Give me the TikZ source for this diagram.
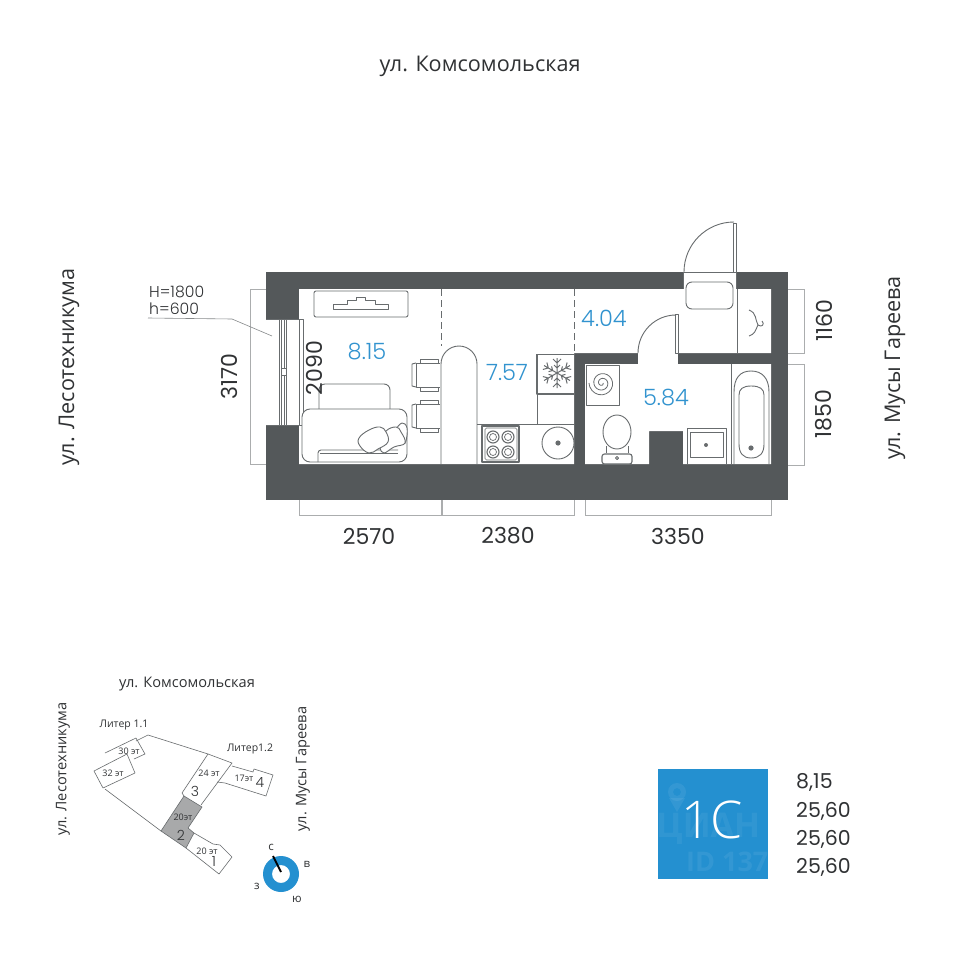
\documentclass[tikz,border=0pt]{standalone}
\usepackage{fontspec}
\setmainfont{Open Sans}
\newfontfamily\numf{Poppins}
\newfontfamily\numl{Poppins Light}
\newfontfamily\cyl{Open Sans Light}
\definecolor{wallc}{HTML}{54585A}
\definecolor{linec}{HTML}{686C6E}
\definecolor{dimc}{HTML}{ABADAE}
\definecolor{areac}{HTML}{3193CF}
\definecolor{cardc}{HTML}{2490D0}
\definecolor{txtc}{HTML}{303234}
\tikzset{
  fx/.style={line width=0.9pt,draw=linec,line join=round},
  dimline/.style={line width=0.8pt,draw=dimc},
  maplin/.style={line width=0.6pt,draw=linec,line join=round},
  street/.style={inner sep=0,text=txtc,font=\fontsize{21.6}{22}\selectfont},
  mstreet/.style={inner sep=0,text=txtc,font=\fontsize{14.6}{15}\selectfont},
  dimtxt/.style={inner sep=0,text=txtc,font=\numf\fontsize{22}{22}\selectfont},
  area/.style={inner sep=0,text=areac,font=\numl\fontsize{22.5}{23}\selectfont},
  val/.style={inner sep=0,anchor=west,text=txtc,font=\numf\fontsize{20.5}{22}\selectfont},
  tiny/.style={inner sep=0,text=txtc,font=\fontsize{9}{10}\selectfont},
  lbl/.style={inner sep=0,text=txtc,font=\fontsize{10.5}{11}\selectfont},
  num/.style={inner sep=0,text=txtc,font=\numl\fontsize{14}{14}\selectfont},
  comp/.style={inner sep=0,text=txtc,font=\fontsize{11.5}{12}\selectfont},
  hnote/.style={inner sep=0,anchor=west,text=txtc,font=\numl\fontsize{15.7}{16}\selectfont},
}
\begin{document}
\begin{tikzpicture}[x=1pt,y=-1pt]
\useasboundingbox (0,0) rectangle (960,960);
\fill[white] (0,0) rectangle (960,960);
% dimension brackets
\draw[dimline] (266,289) -- (250,289) -- (250,464) -- (266,464);
\draw[dimline] (788,289) -- (804,289) -- (804,353) -- (788,353);
\draw[dimline] (788,364) -- (804,364) -- (804,465) -- (788,465);
\draw[dimline] (299,500) -- (299,515) -- (441,515) -- (441,500);
\draw[dimline] (442,500) -- (442,515) -- (574,515) -- (574,500);
\draw[dimline] (585,500) -- (585,515) -- (771,515) -- (771,500);
% walls
\fill[wallc] (266,272) rectangle (788,500);
\fill[white] (299,289) -- (771,289) -- (771,353) -- (574,353) -- (574,464) -- (299,464) -- cycle;
\fill[white] (585,364) -- (771,364) -- (771,464) -- (683,464) -- (683,431) -- (649,431) -- (649,464) -- (585,464) -- cycle;
\fill[white] (638,352) rectangle (678,365);
\fill[white] (683,271) rectangle (736,290);
\fill[white] (266,319) rectangle (299,425);
% window
\draw[fx] (266,319) -- (299,319) (266,425) -- (299,425);
\draw[fx] (279,319) -- (279,425) (281,319) -- (281,425) (284,319) -- (284,425);
\draw[fx,line width=0.5pt] (286,319) -- (286,425);
\draw[fx,fill=white] (281,368) rectangle (286,375);
\draw[fx] (299,319) rectangle (303,425);
\draw[dimline,draw=linec!80,line width=0.6pt] (148,318) -- (232,319) -- (272,336);
% doors
\draw[fx] (684,272) arc[start angle=180,end angle=270,radius=50];
\draw[fx,line width=0.8pt] (683,272) -- (736,272) (733,223) -- (736,223) -- (736,272) -- (733,272) -- cycle;
\draw[fx] (683,272) -- (683,289) (736,272) -- (736,289);
\draw[fx] (638,353) arc[start angle=180,end angle=270,radius=38];
\draw[fx] (675,314) -- (678,314) -- (678,353) -- (675,353) -- cycle;
% built-in lines
\draw[fx,dash pattern=on 7pt off 4pt,line width=0.8pt] (441,289) -- (441,346);
\draw[fx,dash pattern=on 7pt off 4pt,line width=0.8pt] (574,289) -- (574,353);
\draw[fx] (737,289) -- (737,353);
\draw[fx] (731,364) -- (731,464);
% hanger + hall bench
\draw[fx,rounded corners=6pt] (686,282) rectangle (733,309);
\draw[fx] (749,310) .. controls (757,313) and (755,320) .. (758,325) .. controls (755,331) and (755,334) .. (749,336);
\draw[fx] (758,325) .. controls (762,328) and (765,324) .. (762,321);
% TV
\draw[fx,rounded corners=2pt] (314,291) rectangle (408,317);
\draw[fx] (333,309) -- (333,304) -- (347,304) -- (347,300) -- (356,300) -- (356,297) -- (365,297) -- (365,300) -- (375,300) -- (375,304) -- (388,304) -- (388,309) -- cycle;
% chairs
\foreach \yy in {359,400}{
  \draw[fx] (440,\yy+4) -- (416,\yy+4) -- (416,\yy+28) -- (440,\yy+28);
  \draw[fx] (416,\yy+4) -- (412,\yy+5) -- (412,\yy+27) -- (416,\yy+28);
  \draw[fx] (420,\yy+4) -- (420,\yy) -- (438,\yy) -- (438,\yy+4);
  \draw[fx] (420,\yy+28) -- (420,\yy+32) -- (438,\yy+32) -- (438,\yy+28);
}
% counter
\draw[fx] (441,464) -- (441,364) arc[start angle=180,end angle=360,radius=18] -- (477,464);
\draw[fx] (477,424) -- (574,424);
\draw[fx] (537,394) -- (537,424);
% sofa
\draw[fx,rounded corners=6pt] (319,409) -- (319,384) -- (390,384) -- (390,409);
\draw[fx,rounded corners=8pt,fill=white] (302,409) rectangle (407,462);
\draw[fx,rounded corners=3pt] (318,462) -- (318,450) -- (398,450);
\draw[fx] (320,453) -- (398,453);
\draw[fx,fill=white] plot[smooth cycle,tension=0.7] coordinates {(402,423) (407,428) (406,441) (403,443) (398,436) (396,430)};
\draw[fx,fill=white] plot[smooth cycle,tension=0.7] coordinates {(386,431) (396,427) (401,432) (405,443) (394,447) (384,453) (380,448) (380,442)};
\draw[fx,fill=white] plot[smooth cycle,tension=0.7] coordinates {(369,430) (380,427) (386,432) (388,442) (378,449) (369,453) (360,446) (359,438)};
% stove
\draw[fx,line width=1.1pt] (482,426) rectangle (519,462);
\draw[fx,line width=0.6pt,rounded corners=1.5pt] (485,428) rectangle (517,460);
\foreach \cx/\cy in {493/437,508/437,493/452,508/452}{
  \draw[fx,line width=1.1pt] (\cx,\cy) circle[radius=6];
  \draw[fx,line width=0.7pt] (\cx,\cy) circle[radius=3.5];
}
% sink
\draw[fx] (558,443) circle[radius=16];
\fill[linec] (558,443) circle[radius=2.6];
% fridge
\draw[fx,line width=1.1pt] (537,354) -- (537,394) -- (574,394);
\draw[fx] (537,354) -- (574,354);
\foreach \a in {30,90,150,210,270,330}{
  \begin{scope}[shift={(557,373)},rotate=\a]
    \draw[fx,line width=1pt] (0,0) -- (15,0) (10,0) -- (14,-4) (10,0) -- (14,4) (5,0) -- (8,-3) (5,0) -- (8,3);
  \end{scope}
}
% washer
\draw[fx] (586,365) rectangle (619,405);
\draw[fx,line width=0.8pt] plot[smooth,samples=50,domain=0:900] ({602+(1+\x/75)*cos(\x)},{383+(1+\x/75)*sin(\x)});
% toilet
\draw[fx] (606,446) -- (606,453) (628,446) -- (628,453);
\draw[fx,fill=white] (617,432) ellipse[x radius=14,y radius=17];
\draw[fx,line width=1.1pt,rounded corners=2.5pt,fill=white] (602,454) rectangle (632,464);
\draw[fx] (617,458) circle[radius=1.6];
% wash basin
\draw[fx] (687,464) -- (687,428) -- (726,428) -- (726,464);
\draw[fx] (690,432) rectangle (723,457);
\fill[linec] (706,445) circle[radius=2];
% bath
\draw[fx] (734,464) -- (734,392) .. controls (734,378) and (740,371) .. (751,371) .. controls (762,371) and (769,378) .. (769,392) -- (769,464);
\draw[fx] (739,395) .. controls (739,389) and (743,386) .. (751,386) .. controls (760,386) and (764,389) .. (764,395) -- (764,444) .. controls (764,453) and (760,458) .. (751,458) .. controls (743,458) and (739,453) .. (739,444) -- cycle;
\fill[linec] (751,448) circle[radius=2.6];
% labels
\node[street] (comsomol) at (480,66) {ул. Комсомольская};
\node[street,rotate=90] (lesotech) at (69,367) {ул. Лесотехникума};
\node[street,rotate=90] (garey) at (895,368) {ул. Мусы Гареева};
\node[hnote] (hh) at (149,292) {H=1800};
\node[hnote] (hl) at (149,309) {h=600};
\node[dimtxt,rotate=90] (d2090) at (314,368) {2090};
\node[dimtxt,rotate=90] (d3170) at (229,377) {3170};
\node[dimtxt,rotate=90] (d1160) at (824,321) {1160};
\node[dimtxt,rotate=90] (d1850) at (824,414) {1850};
\node[dimtxt] (d2570) at (369,536) {2570};
\node[dimtxt] (d2380) at (508,536) {2380};
\node[dimtxt] (d3350) at (678,536) {3350};
\node[area] (a1) at (367,352) {8.15};
\node[area] (a2) at (507,372) {7.57};
\node[area] (a3) at (604,318) {4.04};
\node[area] (a4) at (666,398) {5.84};
% site plan
\fill[gray!60!wallc!60] (184,796) -- (202,807) -- (188,828) -- (194,833) -- (186,848) -- (161,831) -- cycle;
\draw[maplin] (184,796) -- (202,807) -- (188,828) -- (194,833) -- (186,848) -- (161,831) -- cycle;
\draw[maplin] (136,741) -- (148,735) -- (208,754);
\draw[maplin] (105,753) -- (136,738) -- (145,754) -- (134,759);
\draw[maplin] (94,771) -- (127,754) -- (135,773) -- (103,788) -- cycle;
\draw[maplin] (105,789) -- (161,831);
\draw[maplin] (208,754) -- (232,763) -- (201,805);
\draw[maplin] (208,754) -- (182,793) -- (184,796);
\draw[maplin] (232,766) -- (253,772) -- (254,769) -- (273,775) -- (266,796) -- (225,783) -- (217,782);
\draw[maplin] (194,833) -- (213,844) -- (220,845) -- (232,857) -- (219,874) -- (186,848);
\node[mstreet] (mk) at (187,684) {ул. Комсомольская};
\node[mstreet,rotate=90] (ml) at (63,769) {ул. Лесотехникума};
\node[mstreet,rotate=90] (mg) at (303,769) {ул. Мусы Гареева};
\node[lbl] (lit1) at (124,725) {Литер 1.1};
\node[lbl] (lit2) at (250,749) {Литер1.2};
\node[tiny] (f30) at (129,751) {30 эт};
\node[tiny] (f32) at (113,773) {32 эт};
\node[tiny] (f24) at (209,773) {24 эт};
\node[tiny] (f17) at (244,778) {17эт};
\node[tiny] (f20a) at (183,817) {20эт};
\node[tiny] (f20b) at (207,851) {20 эт};
\node[num] (n4) at (260,782) {4};
\node[num] (n3) at (195,791) {3};
\node[num] (n2) at (181,835) {2};
\node[num] (n1) at (214,861) {1};
% compass
\fill[cardc,even odd rule] (281,874) circle[radius=18] (281,874) circle[radius=9];
\coordinate (needleA) at (273,856);
\coordinate (needleB) at (281,872);
\draw[black,line width=2pt] (needleA) -- (needleB);
\node[comp] (cn) at (271,847) {с};
\node[comp] (ce) at (307,864) {в};
\node[comp] (cw) at (257,886) {з};
\node[comp] (cs) at (297,899) {ю};
% card
\fill[cardc] (658,769) rectangle (768,879);
\begin{scope}
\clip (658,769) rectangle (768,879);
\fill[white,opacity=0.07,even odd rule] (677,792) circle[radius=9] (677,792) circle[radius=4];
\fill[white,opacity=0.07] (669,798) -- (677,812) -- (685,798) -- cycle;
\node[inner sep=0,anchor=west,text=white,text opacity=0.06,font=\bfseries\fontsize{34}{34}\selectfont] (wm) at (656,829) {ЦИАН};
\node[inner sep=0,anchor=west,text=white,text opacity=0.07,font=\bfseries\fontsize{27}{27}\selectfont] (wid) at (686,862) {ID 137};
\end{scope}
\node[inner sep=0,text=white,font=\cyl\fontsize{52}{52}\selectfont] (type) at (712,820) {1С};
\node[val] (v1) at (796,782) {8,15};
\node[val] (v2) at (796,811) {25,60};
\node[val] (v3) at (796,839) {25,60};
\node[val] (v4) at (796,867) {25,60};
\end{tikzpicture}
\end{document}
